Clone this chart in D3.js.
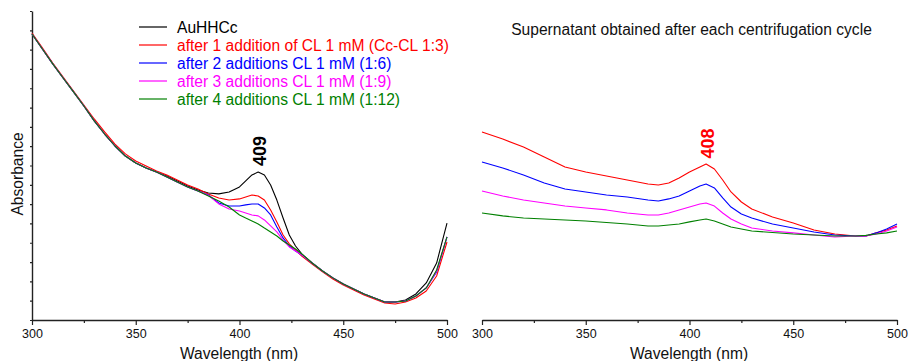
<!DOCTYPE html>
<html>
<head>
<meta charset="utf-8">
<script src="https://cdn.jsdelivr.net/npm/d3@7"></script>
<style>
  html, body { margin: 0; padding: 0; background: white; }
  svg { display: block; font-family: 'Liberation Sans', Arial, sans-serif; }
</style>
</head>
<body>
<script>
// left panel: AuHHCc + successive CL additions
const wlLeft = [300, 305, 310, 315, 320, 325, 330, 335, 340, 345, 350, 355, 360, 365, 370, 375, 380, 385,
  390, 395, 400, 403, 406, 409, 412, 415, 418, 421, 424, 427, 430, 435, 440, 445, 450, 455, 460, 465, 470,
  475, 480, 485, 490, 495, 500];

const leftBlack = [1.481, 1.403, 1.326, 1.253, 1.181, 1.108, 1.031, 0.963, 0.901, 0.849, 0.813, 0.787, 0.766,
  0.746, 0.720, 0.694, 0.673, 0.658, 0.653, 0.663, 0.689, 0.720, 0.751, 0.766, 0.751, 0.699, 0.621, 0.528,
  0.440, 0.383, 0.342, 0.295, 0.254, 0.218, 0.186, 0.161, 0.135, 0.114, 0.093, 0.093, 0.104, 0.135, 0.192,
  0.295, 0.502];
const leftRed = [1.486, 1.409, 1.331, 1.258, 1.186, 1.113, 1.041, 0.974, 0.911, 0.860, 0.823, 0.798, 0.772,
  0.751, 0.725, 0.699, 0.678, 0.653, 0.632, 0.621, 0.627, 0.637, 0.647, 0.642, 0.621, 0.570, 0.508, 0.440,
  0.394, 0.363, 0.331, 0.290, 0.249, 0.212, 0.181, 0.155, 0.129, 0.109, 0.088, 0.083, 0.093, 0.114, 0.150,
  0.228, 0.404];
const leftBlue = [1.481, 1.403, 1.326, 1.253, 1.181, 1.108, 1.031, 0.963, 0.901, 0.849, 0.813, 0.787, 0.766,
  0.741, 0.715, 0.689, 0.668, 0.647, 0.606, 0.590, 0.590, 0.596, 0.601, 0.601, 0.580, 0.544, 0.482, 0.425,
  0.383, 0.357, 0.337, 0.295, 0.254, 0.218, 0.186, 0.161, 0.135, 0.114, 0.093, 0.093, 0.098, 0.124, 0.166,
  0.249, 0.430];
const leftMagenta = [1.481, 1.403, 1.326, 1.253, 1.181, 1.108, 1.031, 0.963, 0.901, 0.849, 0.813, 0.787, 0.766,
  0.741, 0.715, 0.689, 0.668, 0.645, 0.601, 0.575, 0.564, 0.554, 0.544, 0.539, 0.518, 0.487, 0.456, 0.414,
  0.378, 0.357, 0.337, 0.295, 0.254, 0.218, 0.186, 0.161, 0.135, 0.114, 0.093, 0.093, 0.098, 0.124, 0.166,
  0.254, 0.430];
const leftGreen = [1.481, 1.403, 1.326, 1.253, 1.181, 1.108, 1.031, 0.963, 0.901, 0.849, 0.813, 0.787, 0.766,
  0.741, 0.715, 0.689, 0.668, 0.642, 0.616, 0.585, 0.544, 0.528, 0.513, 0.497, 0.476, 0.456, 0.435, 0.409,
  0.388, 0.368, 0.342, 0.295, 0.254, 0.218, 0.186, 0.161, 0.135, 0.114, 0.093, 0.093, 0.098, 0.124, 0.166,
  0.259, 0.430];

// right panel: supernatants (no AuHHCc trace)
const wlRight = [300, 310, 320, 330, 340, 350, 360, 370, 380, 385, 390, 395, 400, 405, 408, 412, 416, 420,
  425, 430, 440, 450, 460, 470, 480, 485, 490, 495, 500];

const rightRed = [0.974, 0.937, 0.896, 0.844, 0.792, 0.766, 0.746, 0.725, 0.704, 0.699, 0.709, 0.735, 0.766,
  0.792, 0.808, 0.782, 0.725, 0.663, 0.611, 0.575, 0.533, 0.502, 0.466, 0.445, 0.435, 0.435, 0.451, 0.466,
  0.487];
const rightBlue = [0.818, 0.787, 0.751, 0.709, 0.678, 0.663, 0.647, 0.637, 0.621, 0.616, 0.627, 0.642, 0.668,
  0.694, 0.704, 0.684, 0.632, 0.585, 0.549, 0.528, 0.497, 0.476, 0.456, 0.440, 0.435, 0.435, 0.451, 0.471,
  0.497];
const rightMagenta = [0.668, 0.642, 0.621, 0.606, 0.590, 0.580, 0.570, 0.554, 0.544, 0.544, 0.554, 0.570, 0.585,
  0.601, 0.606, 0.590, 0.554, 0.523, 0.497, 0.476, 0.461, 0.451, 0.440, 0.430, 0.435, 0.435, 0.445, 0.461,
  0.482];
const rightGreen = [0.554, 0.539, 0.528, 0.523, 0.518, 0.513, 0.505, 0.497, 0.487, 0.487, 0.492, 0.497, 0.508,
  0.518, 0.523, 0.513, 0.497, 0.482, 0.471, 0.461, 0.453, 0.445, 0.440, 0.435, 0.435, 0.438, 0.445, 0.451,
  0.461];

const legendLabels = [
  'AuHHCc',
  'after 1 addition of CL 1 mM (Cc-CL 1:3)',
  'after 2 additions CL 1 mM (1:6)',
  'after 3 additions CL 1 mM (1:9)',
  'after 4 additions CL 1 mM (1:12)',
];
const colors = ['#000000', '#ff0000', '#0000ff', '#ff00ff', '#008000'];
const xTicks = [300, 325, 350, 375, 400, 425, 450, 475, 500];

const width = 909;
const height = 361;
const axisColor = '#222';
const fontFamily = "'Liberation Sans', Arial, sans-serif";

const svg = d3.select('body').append('svg')
  .attr('width', width)
  .attr('height', height)
  .attr('viewBox', [0, 0, width, height]);

const y = d3.scaleLinear().domain([0, 1.6]).range([320, 11]);
const xLeft = d3.scaleLinear().domain([300, 500]).range([32, 447]);
const xRight = d3.scaleLinear().domain([300, 500]).range([482, 897]);

const draw_x_axis = (x, cx) => {
  const g = svg.append('g')
    .attr('transform', `translate(0,${y(0)})`)
    .call(d3.axisBottom(x).tickValues(xTicks).tickSize(3).tickFormat((d) => d % 50 ? '' : d).tickSizeOuter(0));
  g.select('.domain').attr('stroke', axisColor).attr('stroke-width', 1.4);
  g.selectAll('.tick line')
    .attr('stroke', axisColor)
    .attr('stroke-width', 1.2)
    .attr('y2', (d) => d % 50 ? 3 : 5);
  g.selectAll('.tick text')
    .attr('y', 9)
    .attr('fill', '#111')
    .attr('font-size', 12.5)
    .attr('font-family', fontFamily);
  svg.append('text')
    .attr('x', cx)
    .attr('y', 358.5)
    .attr('text-anchor', 'middle')
    .attr('font-size', 15.6)
    .attr('fill', '#111')
    .text('Wavelength (nm)');
};

draw_x_axis(xLeft, 239);
draw_x_axis(xRight, 689);

// left y axis, unlabelled ticks
const gy = svg.append('g')
  .attr('transform', `translate(${xLeft(300)},0)`)
  .call(d3.axisLeft(y).ticks(16).tickSize(2).tickFormat('').tickSizeOuter(0));
gy.select('.domain').attr('stroke', axisColor).attr('stroke-width', 1.4);
gy.selectAll('.tick line').attr('stroke', axisColor).attr('stroke-width', 1.2);

svg.append('text')
  .attr('transform', 'translate(17.5,174) rotate(-90)')
  .attr('dy', '0.36em')
  .attr('text-anchor', 'middle')
  .attr('font-size', 15.6)
  .attr('fill', '#111')
  .text('Absorbance');

const draw_series = (x, wl, series, cols) => {
  const line = d3.line()
    .x((d, j) => x(wl[j]))
    .y((d) => y(d));
  series.forEach((vals, i) => {
    svg.append('path')
      .attr('d', line(vals))
      .attr('fill', 'none')
      .attr('stroke', cols[i])
      .attr('stroke-width', 1.1)
      .attr('stroke-linejoin', 'round');
  });
};

draw_series(xLeft, wlLeft, [leftBlack, leftRed, leftBlue, leftMagenta, leftGreen], colors);
draw_series(xRight, wlRight, [rightRed, rightBlue, rightMagenta, rightGreen], colors.slice(1));

// peak labels
svg.append('text')
  .attr('transform', `translate(${xLeft(409) + 1},151) rotate(-90)`)
  .attr('dy', '0.36em')
  .attr('text-anchor', 'middle')
  .attr('font-size', 18)
  .attr('font-weight', 'bold')
  .attr('fill', '#000')
  .text('409');

svg.append('text')
  .attr('transform', `translate(${xRight(408) + 1},143.5) rotate(-90)`)
  .attr('dy', '0.36em')
  .attr('text-anchor', 'middle')
  .attr('font-size', 18)
  .attr('font-weight', 'bold')
  .attr('fill', '#ff0000')
  .text('408');

// legend
const legend = svg.append('g')
  .selectAll()
  .data(legendLabels)
  .join('g')
  .attr('transform', (d, i) => `translate(139,${27 + i * 18})`);

legend.append('line')
  .attr('x1', 0)
  .attr('x2', 28)
  .attr('stroke', (d, i) => colors[i])
  .attr('stroke-width', 1.2);

legend.append('text')
  .attr('x', 38)
  .attr('y', 5.5)
  .attr('font-size', 15.6)
  .attr('fill', (d, i) => colors[i])
  .text((d) => d);

svg.append('text')
  .attr('x', 691.5)
  .attr('y', 34.5)
  .attr('text-anchor', 'middle')
  .attr('font-size', 15.6)
  .attr('fill', '#111')
  .text('Supernatant obtained after each centrifugation cycle');
</script>
</body>
</html>
